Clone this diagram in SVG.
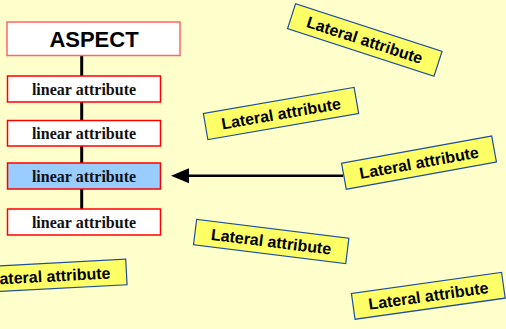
<svg xmlns="http://www.w3.org/2000/svg" width="506" height="329" viewBox="0 0 506 329">
<style>
.lin rect{fill:#ffffff;stroke:#ff0000;stroke-width:1.5}
.lin text{font-family:"Liberation Serif",serif;font-weight:bold;font-size:16px;fill:#111;text-anchor:middle}
.lat rect{fill:#ffff66;stroke:#1f4e9c;stroke-width:1.2}
.lat text{font-family:"Liberation Sans",Arial,sans-serif;font-weight:bold;font-size:16px;fill:#000;text-anchor:middle}
</style>
<rect x="0" y="0" width="506" height="329" fill="#ffffcc"/>
<g id="connectors">
<line x1="81.7" y1="55" x2="81.7" y2="210" stroke="#000" stroke-width="3"/>
<line x1="343" y1="175.8" x2="186" y2="175.8" stroke="#000" stroke-width="2.5"/>
<polygon points="171,175.8 189,168.3 189,183.3" fill="#000"/>
</g>
<g id="aspect">
<rect x="7" y="22" width="173" height="33.5" fill="#fff" stroke="#ff6666" stroke-width="1.5"/>
<text x="94" y="47" font-family="Liberation Sans,Arial,sans-serif" font-weight="bold" font-size="22" text-anchor="middle" fill="#000">ASPECT</text>
</g>
<g id="linear1" class="lin"><rect x="7.5" y="76" width="153" height="26"/><text x="84" y="94.7">linear attribute</text></g>
<g id="linear2" class="lin"><rect x="7.5" y="120.5" width="153" height="25.5"/><text x="84" y="139">linear attribute</text></g>
<g id="linear3" class="lin"><rect x="7.5" y="163" width="153" height="26" fill="#99ccff" style="fill:#99ccff"/><text x="84" y="181.7">linear attribute</text></g>
<g id="linear4" class="lin"><rect x="7.5" y="209" width="153" height="26"/><text x="84" y="227.7">linear attribute</text></g>
<g id="lateral1" class="lat" transform="translate(364.8,40) rotate(18)"><rect x="-77" y="-13" width="154" height="26"/><text x="0" y="5.7">Lateral attribute</text></g>
<g id="lateral2" class="lat" transform="translate(281,113.5) rotate(-9.8)"><rect x="-76.5" y="-13.3" width="153" height="26.6"/><text x="0" y="5.7">Lateral attribute</text></g>
<g id="lateral3" class="lat" transform="translate(419,162.6) rotate(-10.3)"><rect x="-76.3" y="-13.2" width="152.6" height="26.4"/><text x="0" y="5.7">Lateral attribute</text></g>
<g id="lateral4" class="lat" transform="translate(271.2,241.5) rotate(7.1)"><rect x="-76.7" y="-12.8" width="153.4" height="25.6"/><text x="0" y="5.7">Lateral attribute</text></g>
<g id="lateral5" class="lat" transform="translate(50,276) rotate(-3)"><rect x="-76.5" y="-12.8" width="153" height="25.6"/><text x="0" y="5.7">Lateral attribute</text></g>
<g id="lateral6" class="lat" transform="translate(428.3,295.8) rotate(-8)"><rect x="-75.8" y="-13" width="151.6" height="26"/><text x="0" y="5.7">Lateral attribute</text></g>
</svg>
